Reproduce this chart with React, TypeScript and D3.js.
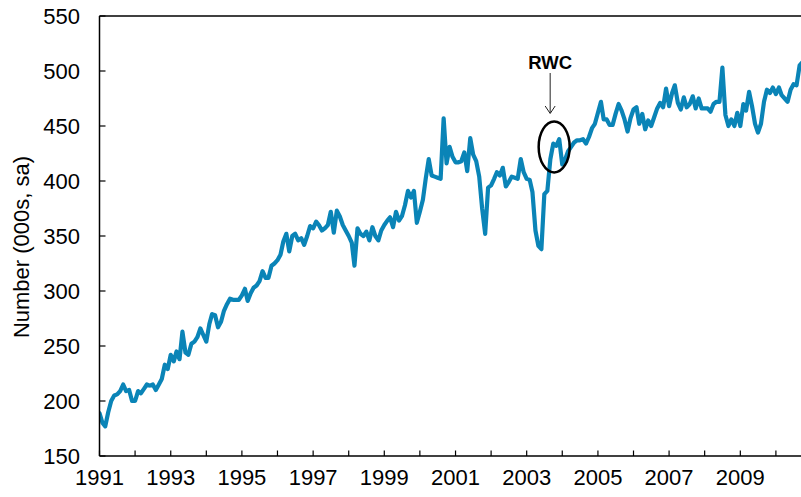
import React from "react";
import * as d3 from "d3";

// Monthly series, starting January 1991 (thousands, seasonally adjusted)
const values: number[] = [
  // 1991
  189, 180, 177, 190, 200, 205, 206, 209, 215, 209, 210, 200,
  // 1992
  200, 209, 207, 211, 215, 214, 215, 210, 215, 220, 233, 229,
  // 1993
  242, 236, 245, 238, 263, 244, 242, 252, 254, 258, 266, 260,
  // 1994
  254, 270, 279, 278, 267, 272, 282, 288, 293, 292, 292, 292,
  // 1995
  296, 302, 291, 298, 303, 305, 309, 318, 312, 312, 323, 325,
  // 1996
  328, 333, 345, 352, 336, 350, 352, 346, 348, 342, 350, 359,
  // 1997
  357, 363, 360, 355, 357, 360, 372, 353, 373, 368, 360, 355,
  // 1998
  350, 344, 323, 357, 352, 350, 354, 346, 358, 350, 346, 355,
  // 1999
  360, 364, 367, 358, 372, 364, 368, 378, 391, 385, 391, 362,
  // 2000
  372, 383, 402, 420, 405, 404, 403, 402, 457, 416, 431, 422,
  // 2001
  417, 417, 418, 426, 409, 439, 424, 418, 404, 375, 352, 394,
  // 2002
  396, 402, 408, 405, 412, 395, 399, 404, 403, 402, 420, 408,
  // 2003
  402, 401, 390, 355, 341, 338, 388, 391, 420, 434, 432, 438,
  // 2004
  415, 420, 427, 431, 435, 437, 437, 438, 434, 440, 448, 452,
  // 2005
  462, 472, 456, 456, 451, 451, 461, 470, 464, 456, 445, 457,
  // 2006
  465, 467, 452, 461, 447, 455, 450, 458, 466, 471, 467, 484,
  // 2007
  468, 480, 487, 471, 465, 476, 467, 470, 477, 466, 475, 466,
  // 2008
  466, 466, 463, 470, 472, 472, 503, 460, 450, 456, 450, 462,
  // 2009
  450, 470, 464, 481, 468, 452, 444, 452, 472, 483, 480, 485,
  // 2010
  479, 485, 478, 475, 472, 483, 488, 487, 505, 508,
];

const startYear = 1991;
const yTicks: number[] = [150, 200, 250, 300, 350, 400, 450, 500, 550];
const yearTicks: number[] = d3.range(1991, 2011);
const yearLabels: number[] = [1991, 1993, 1995, 1997, 1999, 2001, 2003, 2005, 2007, 2009];
const annotationText = "RWC";
const annotationDate = new Date(2003, 9, 10);
const annotationValue = 431;
const yTitle = "Number (000s, sa)";

const W = 801;
const H = 497;
const left = 99.5;
const top = 16;
const bottom = 456;
const pxPerYear = 35.6;

export default function App() {
  const x = d3
    .scaleTime()
    .domain([new Date(1991, 0, 1), new Date(2010, 0, 1)])
    .range([left, left + 19 * pxPerYear]);
  const y = d3.scaleLinear().domain([150, 550]).range([bottom, top]);

  const data = values.map((v, i) => ({ date: new Date(startYear, i, 1), v }));
  const line = d3
    .line<{ date: Date; v: number }>()
    .x((d) => x(d.date))
    .y((d) => y(d.v));

  const font = "'Liberation Sans', Arial, sans-serif";
  const ax = x(annotationDate);
  const ay = y(annotationValue);

  return (
    <div style={{ position: "fixed", left: 0, top: 0 }}>
      <svg width={W} height={H} style={{ display: "block", background: "#fff" }}>
        <defs>
          <clipPath id="plot">
            <rect x={left} y={0} width={W - left} height={bottom} />
          </clipPath>
        </defs>
        {/* top frame line */}
        <line x1={left} x2={W} y1={top} y2={top} stroke="#000" strokeWidth={1.5} />
        {/* series */}
        <path
          d={line(data) || ""}
          fill="none"
          stroke="#0A84B7"
          strokeWidth={4.2}
          strokeLinejoin="round"
          strokeLinecap="round"
          clipPath="url(#plot)"
        />
        {/* y axis */}
        <line x1={left} x2={left} y1={top} y2={bottom} stroke="#000" strokeWidth={1.5} />
        {yTicks.map((t) => (
          <g key={t}>
            <line x1={left} x2={left + 6} y1={y(t)} y2={y(t)} stroke="#000" strokeWidth={1.2} />
            <text
              x={80}
              y={y(t) + 7.8}
              textAnchor="end"
              fontFamily={font}
              fontSize={22}
              fill="#000"
            >
              {t}
            </text>
          </g>
        ))}
        {/* x axis */}
        <line x1={left} x2={W} y1={bottom} y2={bottom} stroke="#000" strokeWidth={1.5} />
        {yearTicks.map((yr) => (
          <line
            key={yr}
            x1={x(new Date(yr, 0, 1))}
            x2={x(new Date(yr, 0, 1))}
            y1={bottom}
            y2={bottom - 5.5}
            stroke="#000"
            strokeWidth={1.2}
          />
        ))}
        {yearLabels.map((yr) => (
          <text
            key={yr}
            x={x(new Date(yr, 0, 1))}
            y={485}
            textAnchor="middle"
            fontFamily={font}
            fontSize={22}
            fill="#000"
          >
            {yr}
          </text>
        ))}
        {/* y title */}
        <text
          transform={`translate(29, 247) rotate(-90)`}
          textAnchor="middle"
          fontFamily={font}
          fontSize={22}
          fill="#000"
        >
          {yTitle}
        </text>
        {/* annotation */}
        <text
          x={ax - 4}
          y={69}
          textAnchor="middle"
          fontFamily={font}
          fontWeight="bold"
          fontSize={18.5}
          fill="#000"
        >
          {annotationText}
        </text>
        <line x1={ax - 4} x2={ax - 4} y1={73} y2={113} stroke="#222" strokeWidth={1} />
        <polyline
          points={`${ax - 9},${106} ${ax - 4},${113.5} ${ax + 1},${106}`}
          fill="none"
          stroke="#222"
          strokeWidth={1}
        />
        <ellipse cx={ax} cy={ay} rx={15.5} ry={25.5} fill="none" stroke="#000" strokeWidth={2.5} />
      </svg>
    </div>
  );
}
